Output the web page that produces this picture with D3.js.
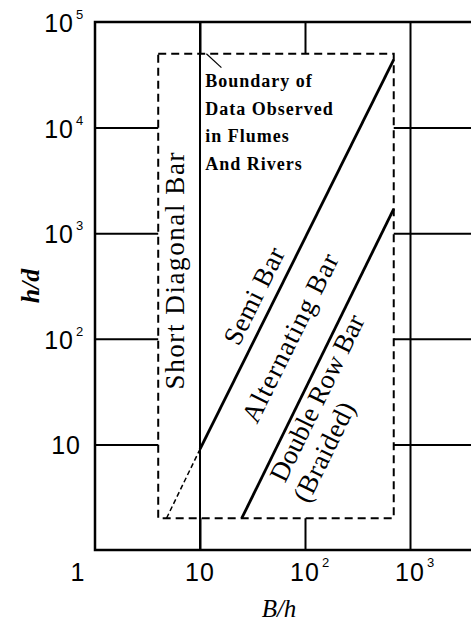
<!DOCTYPE html>
<html>
<head>
<meta charset="utf-8">
<script src="https://cdn.jsdelivr.net/npm/d3@7/dist/d3.min.js"></script>
<style>
  body { margin: 0; background: #fff; }
  svg { display: block; }
</style>
</head>
<body>
<svg width="471" height="623"></svg>
<script>
////////////////////////////// DATA //////////////////////////////

// axis ticks (B/h and h/d, log-log)
var xTicks = [1, 10, 100, 1000];
var yTicks = [10, 100, 1000, 10000, 100000];
var xMax = 4000;           // frame runs off the right edge

// dashed boundary of observed data (flumes and rivers)
var boxX = [4, 700];
var boxY = [2, 50000];

// regime boundaries
var semiDashed = [[4.8, 2], [10, 9]];
var semiSolid = [[10, 9], [700, 44000]];
var doubleRow = [[25, 2], [700, 1700]];
var leader = [[11.5, 50000], [16, 37000]];

// regime labels, anchored at (B/h, h/d)
var regimeNames = ["Short Diagonal Bar", "Semi Bar", "Alternating Bar", "Double Row Bar", "(Braided)"];
var regimeX = [5.8, 32.7, 72, 130, 152];
var regimeY = [439, 254, 102, 27.5, 8.5];
var regimeLen = [237, 105, 185, 182, 108];

var boundaryLines = ["Boundary of", "Data Observed", "in Flumes", "And Rivers"];
var boundaryAt = [11.2, 24200];

////////////////////////////// SCALES //////////////////////////////

var svg = d3.select("svg");

var x = d3.scaleLog().domain([1, 1000]).range([95, 410]);
var y = d3.scaleLog().domain([1, 100000]).range([550, 22]);

var line = d3.line()
    .x(function(d) { return x(d[0]); })
    .y(function(d) { return y(d[1]); });

var ink = "#000";

////////////////////////////// GRID + FRAME //////////////////////////////

var grid = svg.append("g").attr("class", "grid");

// vertical decade lines
grid.append("g")
    .attr("transform", "translate(0," + y(1) + ")")
    .call(d3.axisBottom(x).tickValues([10, 100, 1000]).tickFormat("")
          .tickSizeInner(-(y(1) - y(100000))).tickSizeOuter(0))
    .call(function(g) { g.select(".domain").remove(); });

// horizontal decade lines
grid.append("g")
    .attr("transform", "translate(" + x(1) + ",0)")
    .call(d3.axisLeft(y).tickValues([10, 100, 1000, 10000]).tickFormat("")
          .tickSizeInner(-(x(xMax) - x(1))).tickSizeOuter(0))
    .call(function(g) { g.select(".domain").remove(); });

grid.selectAll("line").attr("stroke", ink).attr("stroke-width", 2);

// frame
svg.append("rect")
    .attr("x", x(1)).attr("y", y(100000))
    .attr("width", x(xMax) - x(1)).attr("height", y(1) - y(100000))
    .attr("fill", "none").attr("stroke", ink).attr("stroke-width", 2.5);

// boundary box hides the grid inside it
svg.append("rect")
    .attr("x", x(boxX[0])).attr("y", y(boxY[1]))
    .attr("width", x(boxX[1]) - x(boxX[0])).attr("height", y(boxY[0]) - y(boxY[1]))
    .attr("fill", "#fff").attr("stroke", ink).attr("stroke-width", 2)
    .attr("stroke-dasharray", "8,5");

// B/h = 10 line separates short diagonal bars
svg.append("line")
    .attr("x1", x(10)).attr("x2", x(10))
    .attr("y1", y(1)).attr("y2", y(100000))
    .attr("stroke", ink).attr("stroke-width", 2);

////////////////////////////// REGIME LINES //////////////////////////////

svg.append("path").datum(semiDashed).attr("d", line)
    .attr("fill", "none").attr("stroke", ink)
    .attr("stroke-width", 1.5).attr("stroke-dasharray", "5,3");

[semiSolid, doubleRow].forEach(function(seg) {
    svg.append("path").datum(seg).attr("d", line)
        .attr("fill", "none").attr("stroke", ink).attr("stroke-width", 2.8);
});

svg.append("path").datum(leader).attr("d", line)
    .attr("fill", "none").attr("stroke", ink).attr("stroke-width", 1.2);

////////////////////////////// LABELS //////////////////////////////

function angleOf(seg) {
    var a = seg[0], b = seg[seg.length - 1];
    return Math.atan2(y(b[1]) - y(a[1]), x(b[0]) - x(a[0])) * 180 / Math.PI;
}
var regimeAngle = [-90, angleOf(semiSolid), angleOf(semiSolid), angleOf(doubleRow), angleOf(doubleRow)];

svg.append("g").selectAll("text")
    .data(regimeNames).enter().append("text")
    .attr("transform", function(d, i) {
        return "translate(" + x(regimeX[i]) + "," + y(regimeY[i]) + ") rotate(" + regimeAngle[i] + ")";
    })
    .attr("text-anchor", "middle")
    .attr("dominant-baseline", "central")
    .attr("textLength", function(d, i) { return regimeLen[i]; })
    .attr("lengthAdjust", "spacing")
    .style("font-family", "'Liberation Serif', 'Times New Roman', serif")
    .style("font-size", "27px")
    .attr("fill", ink)
    .text(function(d) { return d; });

svg.append("g").selectAll("text")
    .data(boundaryLines).enter().append("text")
    .attr("x", x(boundaryAt[0]))
    .attr("y", function(d, i) { return y(boundaryAt[1]) + i * 27.7; })
    .style("font-family", "'Liberation Serif', 'Times New Roman', serif")
    .style("font-size", "18px")
    .style("font-weight", "bold")
    .style("letter-spacing", "1px")
    .attr("fill", ink)
    .text(function(d) { return d; });

////////////////////////////// TICK LABELS //////////////////////////////

var tickFont = "'Liberation Sans', Arial, sans-serif";

function powerLabel(v) {
    var n = Math.round(Math.log10(v));
    return { base: n === 0 ? "1" : "10", sup: n >= 2 ? String(n) : "" };
}

xTicks.forEach(function(v) {
    var lab = powerLabel(v);
    var t = svg.append("text")
        .attr("y", y(1) + 31)
        .style("font-family", tickFont).style("font-size", "25px")
        .style("letter-spacing", "1px")
        .attr("fill", ink);
    t.append("tspan").text(lab.base);
    var w = t.node().getComputedTextLength();
    var shift = v === 1 ? -17 : 0;
    t.attr("x", x(v) - w / 2 + shift);
    if (lab.sup) {
        t.append("tspan").attr("dx", 2).attr("dy", -14)
            .style("font-size", "13px").text(lab.sup);
    }
});

yTicks.forEach(function(v) {
    var lab = powerLabel(v);
    var right = lab.sup ? x(1) - 21 : x(1) - 14;
    var t = svg.append("text")
        .attr("y", y(v) + 10)
        .style("font-family", tickFont).style("font-size", "25px")
        .style("letter-spacing", "1px")
        .attr("fill", ink);
    t.append("tspan").text(lab.base);
    var w = t.node().getComputedTextLength();
    t.attr("x", right - w);
    if (lab.sup) {
        t.append("tspan").attr("dx", 2).attr("dy", -13)
            .style("font-size", "13px").text(lab.sup);
    }
});

////////////////////////////// AXIS TITLES //////////////////////////////

svg.append("text")
    .attr("x", 279).attr("y", 617)
    .attr("text-anchor", "middle")
    .style("font-family", "'Liberation Serif', 'Times New Roman', serif")
    .style("font-size", "25px").style("font-style", "italic")
    .attr("fill", ink)
    .text("B/h");

svg.append("text")
    .attr("transform", "translate(34," + (y(1) + y(100000)) / 2 + ") rotate(-90)")
    .attr("dy", 5)
    .attr("text-anchor", "middle")
    .style("font-family", "'Liberation Serif', 'Times New Roman', serif")
    .style("font-size", "26px").style("font-style", "italic").style("font-weight", "bold")
    .attr("fill", ink)
    .text("h/d");
</script>
</body>
</html>
